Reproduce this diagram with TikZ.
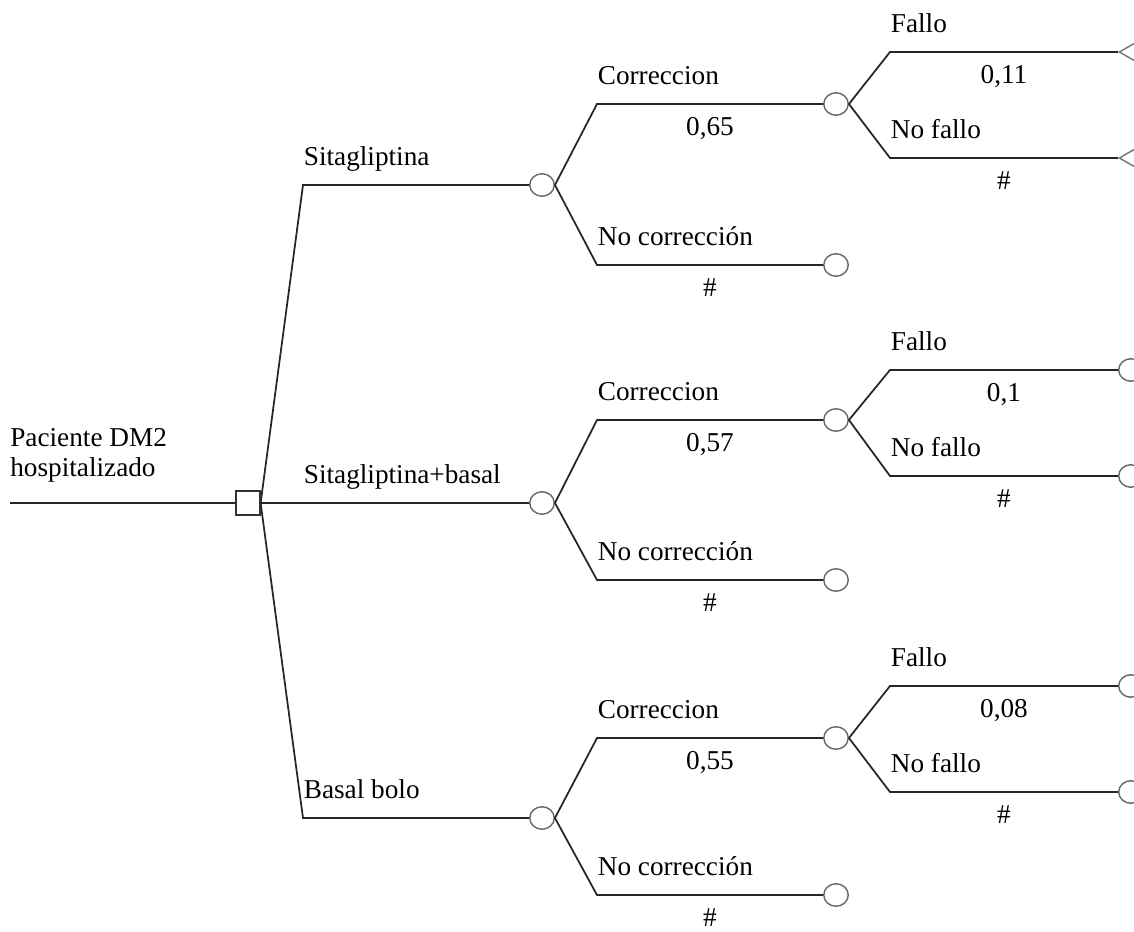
\documentclass[tikz,border=0pt]{standalone}
\usepackage{fontspec}
\setmainfont{Liberation Serif}
\usetikzlibrary{shapes.geometric,positioning}
\tikzset{
  decision/.style={draw=black!80,rectangle,minimum size=4.8mm,inner sep=0pt,line width=0.7pt},
  chance/.style={draw=black!60,ellipse,minimum width=4.9mm,minimum height=4.5mm,inner sep=0pt,line width=0.8pt},
  terminal/.style={draw=black!55,isosceles triangle,shape border rotate=180,isosceles triangle apex angle=60,minimum height=8mm,inner sep=0pt,anchor=apex,line width=0.8pt},
  branch/.style={draw=black!85,line width=1pt},
  lbl/.style={anchor=base west,inner sep=0pt,yshift=11pt},
  prob/.style={anchor=base,inner sep=0pt,yshift=-18pt},
}

\begin{document}
\begin{tikzpicture}[x=0.02cm,y=-0.02cm,font=\fontsize{15.5}{17}\selectfont]
\useasboundingbox (0,0) rectangle (1134,932);
\clip (0,0) rectangle (1134,932);

% decision
\node[decision] (d0) at (248,503) {};
\node[anchor=south west,align=left,inner sep=0pt] (root) at (10,483) {Paciente DM2\\hospitalizado};
\coordinate (r0) at (10,503);
\draw[branch] (r0) -- (d0.west);

% Sitagliptina
\node[chance] (c1) at (542,185) {};
\node[chance] (c11) at (836,104) {};
\node[chance] (c12) at (836,265) {};
\node[terminal] (t111) at (1118,52) {};
\node[terminal] (t112) at (1118,158) {};

\draw[branch] (d0.east) -- (303,185) -- node[lbl,pos=0] {Sitagliptina} (c1.west);
\draw[branch] (c1.east) -- (597,104) -- node[lbl,pos=0] {Correccion} node[prob,midway] {0,65} (c11.west);
\draw[branch] (c1.east) -- (597,265) -- node[lbl,pos=0] {No corrección} node[prob,midway] {\#} (c12.west);
\draw[branch] (c11.east) -- (890,52) -- node[lbl,pos=0] {Fallo} node[prob,midway] {0,11} (t111.apex);
\draw[branch] (c11.east) -- (890,158) -- node[lbl,pos=0] {No fallo} node[prob,midway] {\#} (t112.apex);

% Sitagliptina+basal
\node[chance] (c2) at (542,503) {};
\node[chance] (c21) at (836,420) {};
\node[chance] (c22) at (836,580) {};
\node[chance,anchor=west] (t211) at (1118,370) {};
\node[chance,anchor=west] (t212) at (1118,476) {};

\draw[branch] (d0.east) -- (303,503) -- node[lbl,pos=0] {Sitagliptina+basal} (c2.west);
\draw[branch] (c2.east) -- (597,420) -- node[lbl,pos=0] {Correccion} node[prob,midway] {0,57} (c21.west);
\draw[branch] (c2.east) -- (597,580) -- node[lbl,pos=0] {No corrección} node[prob,midway] {\#} (c22.west);
\draw[branch] (c21.east) -- (890,370) -- node[lbl,pos=0] {Fallo} node[prob,midway] {0,1} (t211.west);
\draw[branch] (c21.east) -- (890,476) -- node[lbl,pos=0] {No fallo} node[prob,midway] {\#} (t212.west);

% Basal bolo
\node[chance] (c3) at (542,818) {};
\node[chance] (c31) at (836,738) {};
\node[chance] (c32) at (836,895) {};
\node[chance,anchor=west] (t311) at (1118,686) {};
\node[chance,anchor=west] (t312) at (1118,792) {};

\draw[branch] (d0.east) -- (303,818) -- node[lbl,pos=0] {Basal bolo} (c3.west);
\draw[branch] (c3.east) -- (597,738) -- node[lbl,pos=0] {Correccion} node[prob,midway] {0,55} (c31.west);
\draw[branch] (c3.east) -- (597,895) -- node[lbl,pos=0] {No corrección} node[prob,midway] {\#} (c32.west);
\draw[branch] (c31.east) -- (890,686) -- node[lbl,pos=0] {Fallo} node[prob,midway] {0,08} (t311.west);
\draw[branch] (c31.east) -- (890,792) -- node[lbl,pos=0] {No fallo} node[prob,midway] {\#} (t312.west);
\end{tikzpicture}
\end{document}
